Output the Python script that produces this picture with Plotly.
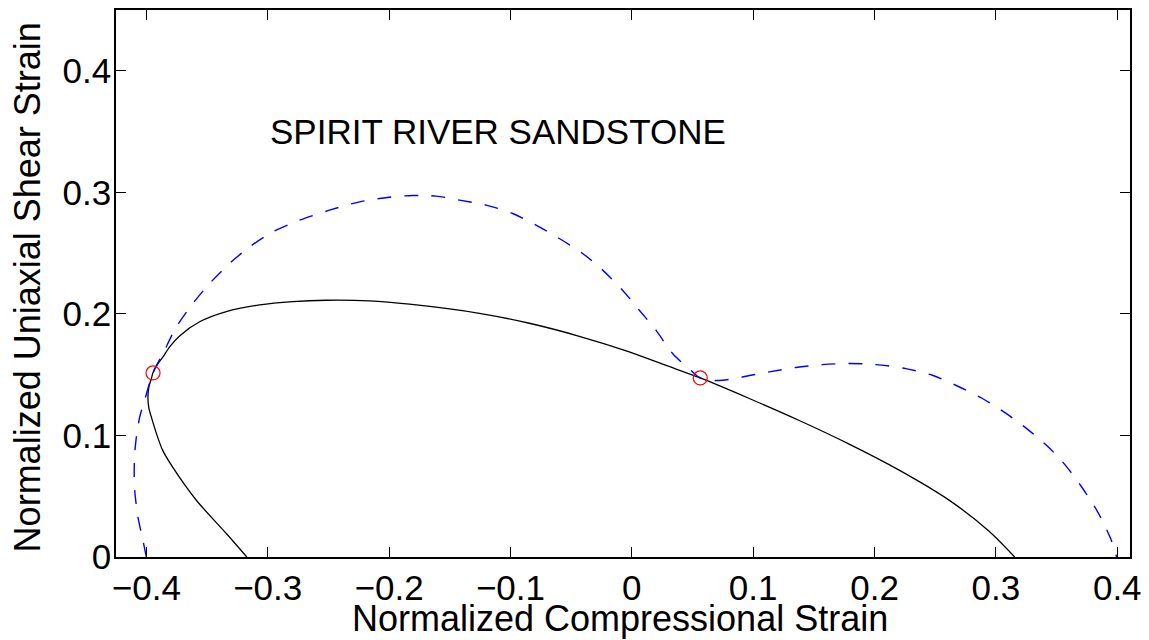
import plotly.graph_objects as go

# Blue dashed curve (normalized compressional strain, uniaxial shear strain)
blue_x = [-0.4000, -0.4028, -0.4069, -0.4096, -0.4100, -0.4096, -0.4082, -0.4055, -0.4014, -0.3946,
          -0.3863, -0.3753, -0.3616, -0.3479, -0.3314, -0.3149, -0.2958, -0.2738, -0.2491, -0.2244,
          -0.2000, -0.1805, -0.1612, -0.1420, -0.1200, -0.0981, -0.0789, -0.0597, -0.0405, -0.0240,
          -0.0076, 0.0062, 0.0199, 0.0336, 0.0501, 0.0564, 0.0635, 0.0747, 0.0912, 0.1132,
          0.1352, 0.1571, 0.1791, 0.2011, 0.2258, 0.2477, 0.2669, 0.2889, 0.3081, 0.3259,
          0.3432, 0.3575, 0.3704, 0.3835, 0.3946, 0.3995]
blue_y = [0.0000, 0.0137, 0.0329, 0.0549, 0.0700, 0.0850, 0.0988, 0.1150, 0.1290, 0.1514,
          0.1674, 0.1893, 0.2086, 0.2250, 0.2415, 0.2551, 0.2675, 0.2771, 0.2853, 0.2922,
          0.2960, 0.2974, 0.2969, 0.2936, 0.2895, 0.2826, 0.2730, 0.2620, 0.2497, 0.2360,
          0.2195, 0.2030, 0.1866, 0.1674, 0.1523, 0.1473, 0.1454, 0.1454, 0.1481, 0.1523,
          0.1559, 0.1583, 0.1592, 0.1583, 0.1550, 0.1495, 0.1413, 0.1304, 0.1183, 0.1052,
          0.0905, 0.0752, 0.0580, 0.0378, 0.0150, 0.0000]

# Black solid curve
black_x = [-0.3172, -0.3341, -0.3588, -0.3783, -0.3866, -0.3918, -0.3956, -0.3979, -0.3987, -0.3979,
           -0.3960, -0.3946, -0.3907, -0.3863, -0.3808, -0.3726, -0.3561, -0.3341, -0.3067, -0.2793,
           -0.2518, -0.2161, -0.1832, -0.1256, -0.0844, -0.0432, -0.0021, 0.0267, 0.0564, 0.0968,
           0.1380, 0.1791, 0.2203, 0.2614, 0.2944, 0.3155]
black_y = [0.0000, 0.0193, 0.0467, 0.0739, 0.0879, 0.1019, 0.1142, 0.1224, 0.1306, 0.1399,
           0.1463, 0.1514, 0.1586, 0.1646, 0.1729, 0.1819, 0.1935, 0.2019, 0.2074, 0.2101,
           0.2112, 0.2107, 0.2080, 0.2005, 0.1923, 0.1816, 0.1688, 0.1582, 0.1473, 0.1304,
           0.1123, 0.0929, 0.0715, 0.0468, 0.0212, 0.0000]

# Intersection markers
pts_x = [-0.3945, 0.0564]
pts_y = [0.1514, 0.1473]

x_ticks = [-0.4, -0.3, -0.2, -0.1, 0, 0.1, 0.2, 0.3, 0.4]
x_tick_labels = ["\u22120.4", "\u22120.3", "\u22120.2", "\u22120.1", "0", "0.1", "0.2", "0.3", "0.4"]
y_ticks = [0, 0.1, 0.2, 0.3, 0.4]
y_tick_labels = ["0", "0.1", "0.2", "0.3", "0.4"]

title_text = "SPIRIT RIVER SANDSTONE"
x_title = "Normalized Compressional Strain"
y_title = "Normalized Uniaxial Shear Strain"

FONT = "Liberation Sans, Arial, Helvetica, sans-serif"

fig = go.Figure()
fig.add_trace(go.Scatter(x=black_x, y=black_y, mode="lines",
                         line=dict(color="black", width=1.3, shape="spline", smoothing=0.8),
                         showlegend=False, hoverinfo="skip"))
fig.add_trace(go.Scatter(x=blue_x, y=blue_y, mode="lines",
                         line=dict(color="#0000ff", width=1.4, dash="14px,13px",
                                   shape="spline", smoothing=0.8),
                         showlegend=False, hoverinfo="skip"))
fig.add_trace(go.Scatter(x=pts_x, y=pts_y, mode="markers",
                         marker=dict(symbol="circle-open", size=14, color="#ff0000",
                                     line=dict(color="#ff0000", width=1.2)),
                         showlegend=False, hoverinfo="skip"))

fig.add_annotation(x=-0.3, y=0.35, xref="x", yref="y", text=title_text,
                   showarrow=False, xanchor="left", yanchor="middle",
                   font=dict(family=FONT, size=35, color="black"))

# Axis titles placed as annotations for exact positioning
fig.add_annotation(x=0.4968, y=-0.1125, xref="paper", yref="paper", text=x_title,
                   showarrow=False, xanchor="center", yanchor="middle",
                   font=dict(family=FONT, size=36, color="black"))
fig.add_annotation(x=-0.0874, y=0.4936, xref="paper", yref="paper", text=y_title,
                   showarrow=False, xanchor="center", yanchor="middle", textangle=-90,
                   font=dict(family=FONT, size=36, color="black"))

axis_common = dict(showgrid=False, zeroline=False, showline=True, linecolor="black",
                   linewidth=1.5, mirror="ticks", ticks="inside", ticklen=10,
                   tickwidth=1, tickcolor="black", automargin=False,
                   tickfont=dict(family=FONT, size=35, color="black"))

fig.update_xaxes(range=[-0.425, 0.4105], tickvals=x_ticks, ticktext=x_tick_labels,
                 ticklabelstandoff=-1, **axis_common)
fig.update_yaxes(range=[0, 0.45], tickvals=y_ticks, ticktext=y_tick_labels,
                 ticklabelstandoff=-4, **axis_common)

# The page body has an 8px margin, so the figure is sized to fill the window after that offset
fig.update_layout(width=1141, height=632,
                  margin=dict(l=108, r=19, t=2, b=83, pad=0, autoexpand=False),
                  paper_bgcolor="white", plot_bgcolor="white",
                  font=dict(family=FONT, color="black"))

fig.write_html("out.html")
